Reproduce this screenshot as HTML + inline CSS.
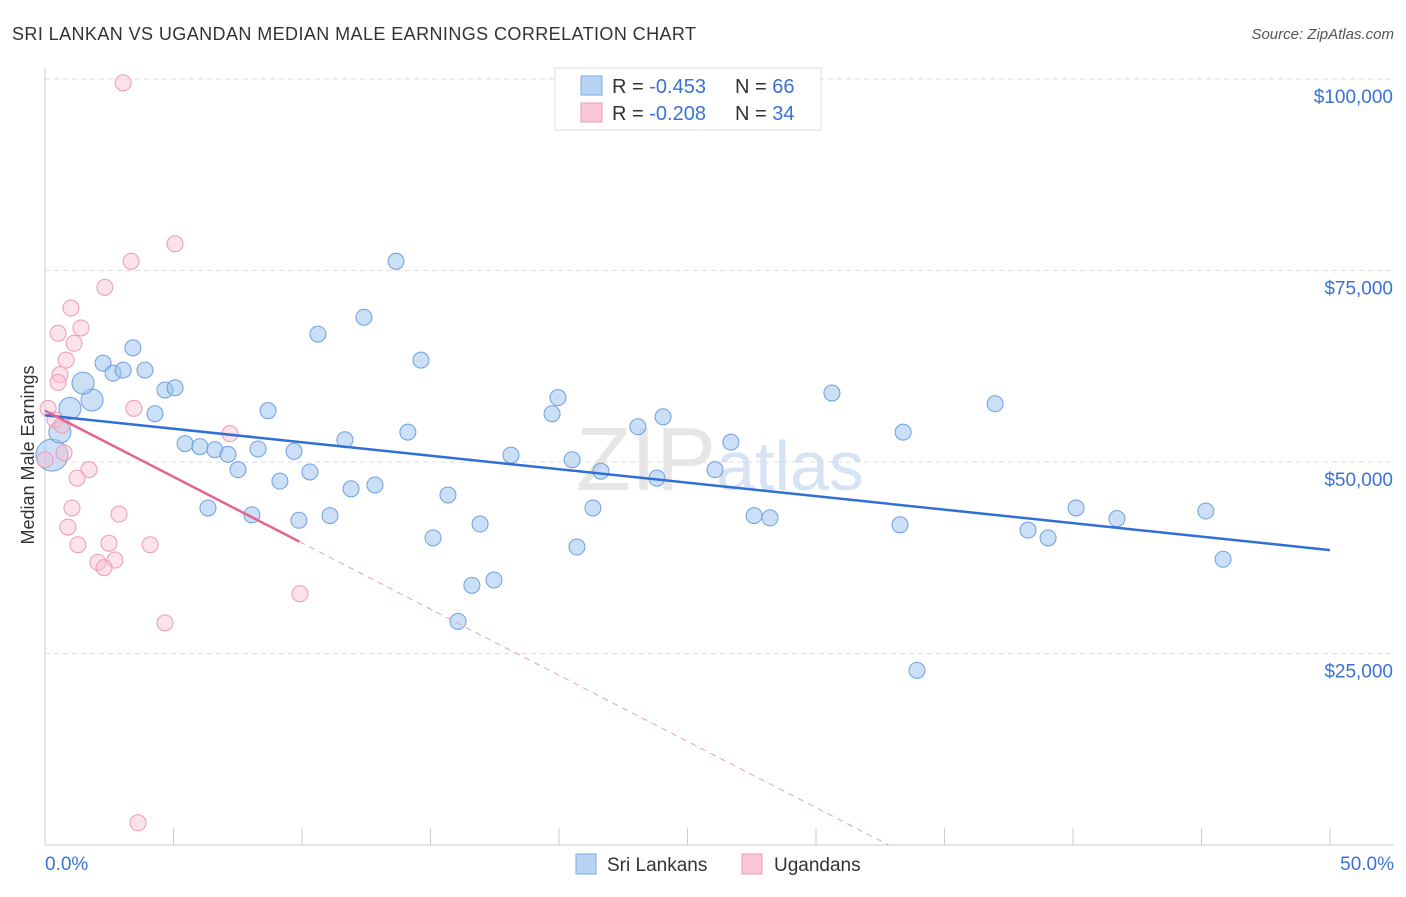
<!DOCTYPE html>
<html><head><meta charset="utf-8"><style>
body{margin:0;background:#fff;font-family:"Liberation Sans",sans-serif;}
svg text{font-family:"Liberation Sans",sans-serif;}
</style></head><body>
<svg id="chart" width="1406" height="892" xmlns="http://www.w3.org/2000/svg">
<text x="12" y="40" font-size="18" fill="#333" textLength="684">SRI LANKAN VS UGANDAN MEDIAN MALE EARNINGS CORRELATION CHART</text>
<text x="1394" y="39" font-size="15" fill="#555" font-style="italic" text-anchor="end">Source: ZipAtlas.com</text>
<text x="720" y="490" font-size="90" fill="#e6e6e6" text-anchor="middle" font-family="Liberation Serif">ZIP<tspan fill="#d5e3f5" font-family="Liberation Sans" font-size="70">atlas</tspan></text>
<text transform="translate(34,455) rotate(-90)" font-size="18" fill="#333" text-anchor="middle">Median Male Earnings</text>
<g id="grid"></g><g id="marks"></g>
<g>
<rect x="555" y="68" width="266" height="62" fill="#fff" stroke="#ddd"/>
<rect x="581" y="76" width="21" height="19" fill="#b9d3f3" stroke="#7aa7e6"/>
<rect x="581" y="103" width="21" height="19" fill="#fac8d6" stroke="#ee9ab3"/>
<text x="612" y="93" font-size="20" fill="#333">R = <tspan fill="#3a72d2">-0.453</tspan></text>
<text x="735" y="93" font-size="20" fill="#333">N = <tspan fill="#3a72d2">66</tspan></text>
<text x="612" y="120" font-size="20" fill="#333">R = <tspan fill="#3a72d2">-0.208</tspan></text>
<text x="735" y="120" font-size="20" fill="#333">N = <tspan fill="#3a72d2">34</tspan></text>
</g>
<g>
<rect x="576" y="854" width="20" height="20" fill="#b9d3f3" stroke="#7aa7e6"/>
<text x="607" y="871" font-size="19" fill="#333">Sri Lankans</text>
<rect x="742" y="854" width="20" height="20" fill="#fac8d6" stroke="#ee9ab3"/>
<text x="774" y="871" font-size="19" fill="#333">Ugandans</text>
</g>
</svg>
<script>
const yTicks=[25000,50000,75000,100000];
const yTickLabels=["$25,000","$50,000","$75,000","$100,000"];
const blueX=[0.27,0.58,0.97,1.83,1.48,2.26,2.65,3.04,3.42,3.89,4.28,4.67,5.06,5.45,6.03,6.34,6.61,7.12,7.51,8.05,8.29,8.68,9.14,9.69,9.88,10.31,10.62,11.09,11.67,11.91,12.41,12.84,13.66,14.12,14.63,15.10,15.68,16.07,16.61,16.93,17.47,18.13,19.73,19.96,20.51,20.70,21.32,21.63,23.07,23.81,24.05,26.07,26.69,27.59,28.21,30.62,33.27,33.39,33.93,36.97,38.25,39.03,40.12,41.71,45.17,45.84];
const blueY=[50.9,53.9,57.0,58.1,60.3,62.9,61.6,62.0,64.9,62.0,56.3,59.4,59.7,52.4,52.0,44.0,51.6,51.0,49.0,43.1,51.7,56.7,47.5,51.4,42.4,48.7,66.7,43.0,52.9,46.5,68.9,47.0,76.2,53.9,63.3,40.1,45.7,29.2,33.9,41.9,34.6,50.9,56.3,58.4,50.3,38.9,44.0,48.8,54.6,47.9,55.9,49.0,52.6,43.0,42.7,59.0,41.8,53.9,22.8,57.6,41.1,40.1,44.0,42.6,43.6,37.3];
const pinkX=[3.04,5.06,3.35,2.33,1.01,1.40,0.51,1.13,0.82,0.58,0.51,0.12,3.46,0.39,0.66,7.20,0.74,0,1.71,1.25,1.05,2.88,0.89,1.28,2.49,4.09,2.06,2.72,2.30,9.92,4.67,3.62];
const pinkY=[99.5,78.5,76.2,72.8,70.1,67.5,66.8,65.5,63.3,61.4,60.4,57.0,57.0,55.5,54.8,53.7,51.2,50.3,49.0,47.9,44.0,43.2,41.5,39.2,39.4,39.2,36.9,37.2,36.2,32.8,29.0,2.9];
const blueTrend=[56.1,38.5];
const pinkTrend=[56.7,39.6,9.9];
const NS="http://www.w3.org/2000/svg";
const X=v=>45+v/50*1285, Y=k=>845-k/100*766;
const grid=document.getElementById('grid'), marks=document.getElementById('marks');
function mk(tag,at,parent){const e=document.createElementNS(NS,tag);for(const k in at)e.setAttribute(k,at[k]);parent.appendChild(e);return e;}
yTicks.forEach((t,i)=>{
 const l=mk('line',{x1:45,x2:1394,y1:Y(t/1000),y2:Y(t/1000),stroke:'#ddd','stroke-dasharray':'5,4'},grid);
 
 
 const tx=mk('text',{x:1393,y:Y(t/1000)+24,'font-size':19,fill:'#3a72d2','text-anchor':'end'},grid);
 tx.textContent=yTickLabels[i];
 
 
});
mk('line',{x1:45,x2:45,y1:68,y2:845,stroke:'#ccc'},grid);
mk('line',{x1:45,x2:1394,y1:845,y2:845,stroke:'#ccc'},grid);
for(let i=0;i<=10;i++){const l=mk('line',{x1:X(i*5),x2:X(i*5),y1:828,y2:845,stroke:'#ccc'},grid);
 
 }
const xl=mk('text',{x:45,y:870,'font-size':19,fill:'#3a72d2'},grid);xl.textContent='0.0%';


const xr=mk('text',{x:1394,y:870,'font-size':19,fill:'#3a72d2','text-anchor':'end'},grid);xr.textContent='50.0%';


blueX.forEach((x,i)=>{
 const r=i===0?16:(i<5?11:8);
 const c=mk('circle',{cx:X(x),cy:Y(blueY[i]),r:r,fill:'rgba(160,196,240,0.55)',stroke:'#6f9fe0','stroke-width':1},marks);
 
 
});
pinkX.forEach((x,i)=>{
 const c=mk('circle',{cx:X(x),cy:Y(pinkY[i]),r:8,fill:'rgba(248,190,208,0.45)',stroke:'#ec9ab4','stroke-width':1},marks);
 
 
});
const bl=mk('line',{x1:X(0),y1:Y(blueTrend[0]),x2:X(50),y2:Y(blueTrend[1]),stroke:'#2f6fd6','stroke-width':2.5},marks);


const slope=(pinkTrend[1]-pinkTrend[0])/pinkTrend[2];
const xz=-pinkTrend[0]/slope;
const pd=mk('line',{x1:X(pinkTrend[2]),y1:Y(pinkTrend[1]),x2:X(xz),y2:Y(0),stroke:'#e6a0b8','stroke-width':1,'stroke-dasharray':'6,5'},marks);


const pl=mk('line',{x1:X(0),y1:Y(pinkTrend[0]),x2:X(pinkTrend[2]),y2:Y(pinkTrend[1]),stroke:'#e3648f','stroke-width':2.5},marks);


</script>
</body></html>
